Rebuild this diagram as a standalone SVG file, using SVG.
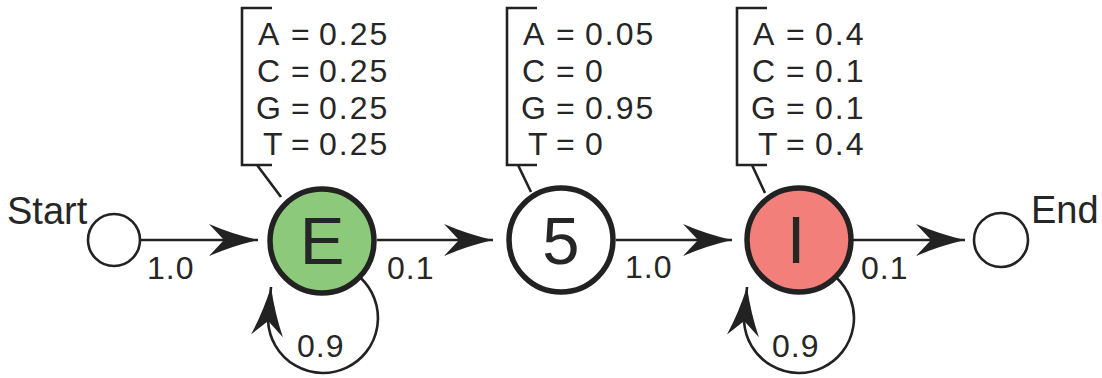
<svg xmlns="http://www.w3.org/2000/svg" width="1102" height="378" viewBox="0 0 1102 378">
  <style>
    text { font-family: "Liberation Sans", Arial, sans-serif; fill: #262626; }
    .tbl { font-size: 32px; }
    .val { letter-spacing: 2px; }
    .lbl { font-size: 32px; letter-spacing: 1px; }
    .term { font-size: 38px; }
    .big { font-size: 67px; text-anchor: middle; }
    .thin { fill: none; stroke: #222; stroke-width: 2.6; }
    .state { stroke: #222; stroke-width: 5.5; }
    .small { fill: #fff; stroke: #222; stroke-width: 2.6; }
    .conn { fill: none; stroke: #222; stroke-width: 2.6; marker-end: url(#arrow); }
  </style>
  <defs>
    <marker id="arrow" markerUnits="userSpaceOnUse" viewBox="-52 -18 56 36" markerWidth="56" markerHeight="36" refX="0" refY="0" orient="auto">
      <path d="M0,0 Q-26,-6 -49,-16 L-34,0 L-49,16 Q-26,6 0,0 Z" fill="#222"/>
    </marker>
  </defs>

  <g id="connectors">
    <path class="conn" d="M140,240 H258"/>
    <path class="conn" d="M377,240 H493"/>
    <path class="conn" d="M616,240 H732"/>
    <path class="conn" d="M853,240 H965"/>
    <path class="conn" d="M360.5,277.8 A55,55 0 1 1 268.1,321.8 L271,287"/>
    <path class="conn" d="M836.5,277.8 A55,55 0 1 1 744.1,321.8 L747,287"/>
  </g>

  <g id="edge-labels">
    <text class="lbl" x="147" y="279">1.0</text>
    <text class="lbl" x="387" y="279">0.1</text>
    <text class="lbl" x="625" y="278">1.0</text>
    <text class="lbl" x="861" y="279">0.1</text>
    <text class="lbl" x="297" y="357">0.9</text>
    <text class="lbl" x="772" y="357">0.9</text>
  </g>

  <g id="start">
    <circle class="small" cx="114" cy="240" r="26"/>
    <text class="term" x="7" y="224">Start</text>
  </g>

  <g id="end">
    <circle class="small" cx="1001" cy="240" r="27"/>
    <text class="term" x="1031" y="223">End</text>
  </g>

  <g id="state-E">
    <path class="thin" d="M272,8 H242 V165 H272 M257,165 L281,197"/>
    <text class="tbl" x="258" y="45">A</text>
    <text class="tbl" x="291" y="45">=</text>
    <text class="tbl val" x="319" y="45">0.25</text>
    <text class="tbl" x="257" y="82">C</text>
    <text class="tbl" x="291" y="82">=</text>
    <text class="tbl val" x="319" y="82">0.25</text>
    <text class="tbl" x="256" y="119">G</text>
    <text class="tbl" x="291" y="119">=</text>
    <text class="tbl val" x="319" y="119">0.25</text>
    <text class="tbl" x="263" y="155">T</text>
    <text class="tbl" x="291" y="155">=</text>
    <text class="tbl val" x="319" y="155">0.25</text>
    <circle class="state" cx="322" cy="241" r="52" fill="#8cc97a"/>
    <text class="big" x="322" y="264">E</text>
  </g>

  <g id="state-5">
    <path class="thin" d="M537,8 H507 V165 H537 M518,165 L531,192"/>
    <text class="tbl" x="523" y="45">A</text>
    <text class="tbl" x="556" y="45">=</text>
    <text class="tbl val" x="585" y="45">0.05</text>
    <text class="tbl" x="522" y="82">C</text>
    <text class="tbl" x="556" y="82">=</text>
    <text class="tbl val" x="585" y="82">0</text>
    <text class="tbl" x="521" y="119">G</text>
    <text class="tbl" x="556" y="119">=</text>
    <text class="tbl val" x="585" y="119">0.95</text>
    <text class="tbl" x="528" y="155">T</text>
    <text class="tbl" x="556" y="155">=</text>
    <text class="tbl val" x="585" y="155">0</text>
    <circle class="state" cx="561" cy="240" r="52" fill="#ffffff"/>
    <text class="big" x="561" y="264">5</text>
  </g>

  <g id="state-I">
    <path class="thin" d="M767,8 H737 V165 H767 M752,165 L765,193"/>
    <text class="tbl" x="753" y="45">A</text>
    <text class="tbl" x="786" y="45">=</text>
    <text class="tbl val" x="815" y="45">0.4</text>
    <text class="tbl" x="752" y="82">C</text>
    <text class="tbl" x="786" y="82">=</text>
    <text class="tbl val" x="815" y="82">0.1</text>
    <text class="tbl" x="751" y="119">G</text>
    <text class="tbl" x="786" y="119">=</text>
    <text class="tbl val" x="815" y="119">0.1</text>
    <text class="tbl" x="758" y="155">T</text>
    <text class="tbl" x="786" y="155">=</text>
    <text class="tbl val" x="815" y="155">0.4</text>
    <circle class="state" cx="799" cy="240" r="52" fill="#f27f7a"/>
    <text class="big" x="796" y="263">I</text>
  </g>
</svg>
